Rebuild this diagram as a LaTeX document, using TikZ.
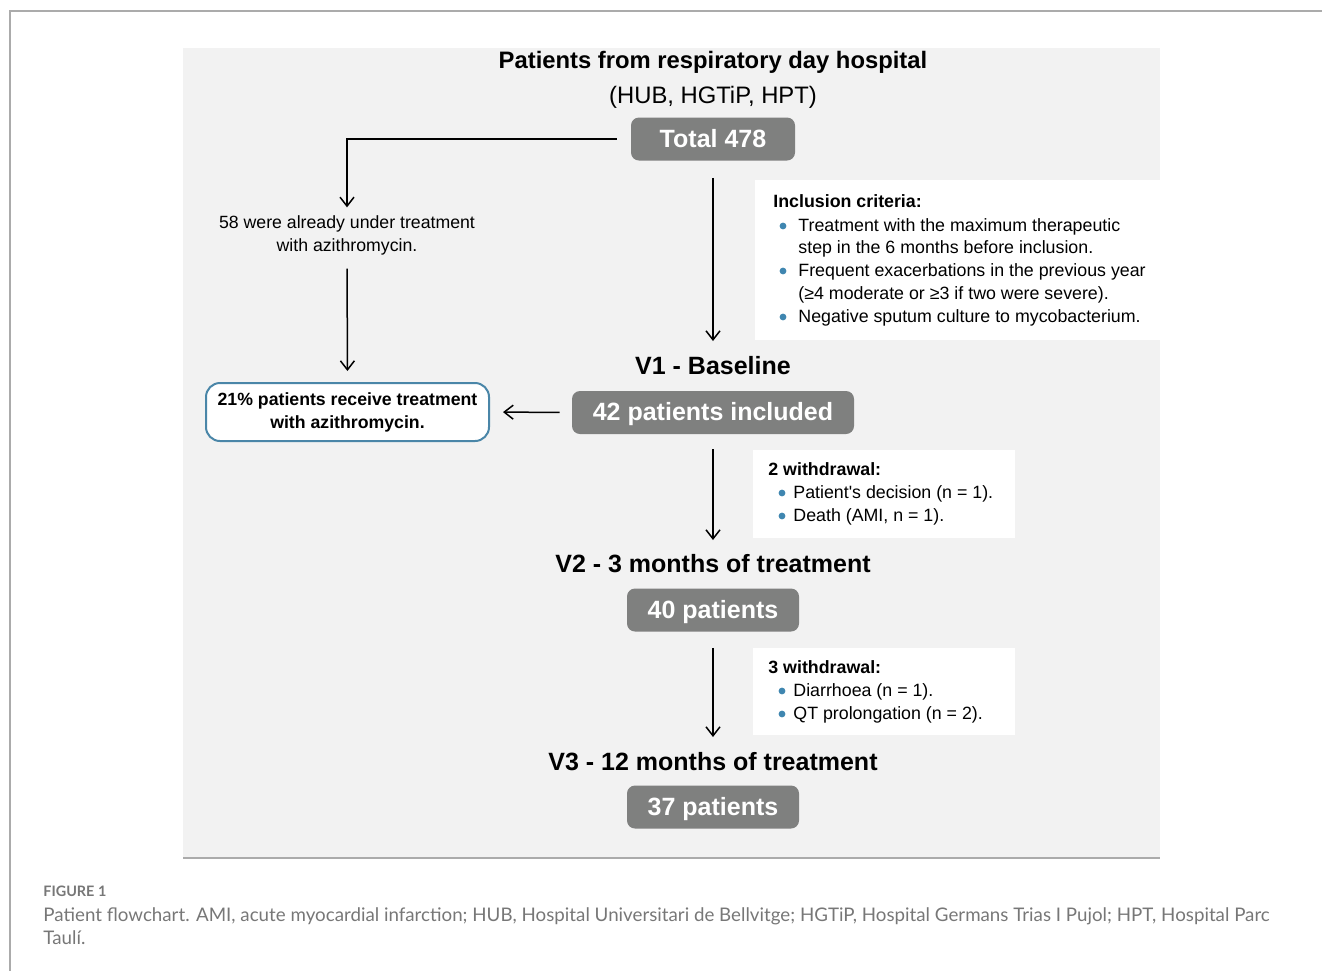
\documentclass[tikz,border=0pt]{standalone}
\usepackage{fontspec}
\setmainfont{Liberation Sans}
\newfontfamily\captionfont{Lato}
\usetikzlibrary{arrows.meta}

\definecolor{panelgray}{HTML}{F2F2F2}
\definecolor{countgray}{HTML}{7F807F}
\definecolor{edgeblue}{HTML}{4A86A8}
\definecolor{dotblue}{HTML}{3F86B0}
\definecolor{framegray}{HTML}{ABABAB}
\definecolor{capgray}{HTML}{777777}

\begin{document}
\begin{tikzpicture}[x=0.5pt, y=-0.5pt, >={Straight Barb[length=4.5pt,width=7pt]},
  countbox/.style={fill=countgray, rounded corners=4pt, text=white, font=\fontsize{12.5}{15}\bfseries,
    text height=0.72em+1pt, text depth=0pt, minimum height=21.5pt, inner sep=0pt},
  stagelabel/.style={font=\fontsize{12.5}{15}\bfseries, anchor=base, inner sep=0pt},
  infobox/.style={fill=white, draw=none, inner sep=0pt},
  infoline/.style={font=\fontsize{8.9}{11}\selectfont, anchor=base west, inner sep=0pt},
  flow/.style={->, line width=0.75pt}]
  \useasboundingbox (0,0) rectangle (1322,971);

  % page frame and panel
  \draw[framegray, line width=0.8pt] (1322,11) -- (10,11) -- (10,971);
  \fill[panelgray] (183,48) rectangle (1160,858);
  \draw[framegray, line width=0.8pt] (183,858) -- (1160,858);

  % heading
  \node[stagelabel, font=\fontsize{11.9}{14}\bfseries] (title) at (713,68.5) {Patients from respiratory day hospital};
  \node[stagelabel, font=\fontsize{11.9}{14}\selectfont] (sites) at (713,103) {(HUB, HGTiP, HPT)};
  \node[countbox, minimum width=82pt] (total) at (713,139) {Total 478};

  % side branch
  \node[font=\fontsize{8.85}{11.5}\selectfont, align=center, inner sep=0pt] (already) at (347,235.5)
    {58 were already under treatment\\with azithromycin.};
  \node[draw=edgeblue, line width=1pt, fill=white, rounded corners=7pt, minimum width=141.5pt, minimum height=29pt,
    align=center, inner sep=0pt, font=\fontsize{8.85}{11.5}\bfseries] (receive) at (347.5,412)
    {21\% patients receive treatment\\with azithromycin.};

  % inclusion criteria
  \node[infobox, minimum width=202.5pt, minimum height=80pt] (incl) at (957.5,260) {};
  \node[infoline, font=\fontsize{8.9}{11}\bfseries] (incl0) at (773,207) {Inclusion criteria:};
  \node[infoline] (incl1) at (798,231) {Treatment with the maximum therapeutic};
  \node[infoline] (incl1b) at (798,253) {step in the 6 months before inclusion.};
  \node[infoline] (incl2) at (798,276) {Frequent exacerbations in the previous year};
  \node[infoline] (incl2b) at (798,299) {(≥4 moderate or ≥3 if two were severe).};
  \node[infoline] (incl3) at (798,322) {Negative sputum culture to mycobacterium.};
  \foreach \y in {226,271,317}
    \fill[dotblue] (783,\y) circle (1.7pt);

  % V1
  \node[stagelabel] (v1) at (713,374) {V1 - Baseline};
  \node[countbox, minimum width=141pt] (included) at (713,412.5) {42 patients included};

  % first withdrawal
  \node[infobox, minimum width=131pt, minimum height=44pt] (wdA) at (884,494) {};
  \node[infoline, font=\fontsize{8.9}{11}\bfseries] (wdA0) at (768,475) {2 withdrawal:};
  \node[infoline] (wdA1) at (793,498) {Patient\textquotesingle s decision (n = 1).};
  \node[infoline] (wdA2) at (793,521) {Death (AMI, n = 1).};
  \foreach \y in {493,516}
    \fill[dotblue] (782,\y) circle (1.7pt);

  % V2
  \node[stagelabel] (v2) at (713,572) {V2 - 3 months of treatment};
  \node[countbox, minimum width=86pt] (forty) at (713,610) {40 patients};

  % second withdrawal
  \node[infobox, minimum width=131pt, minimum height=43.5pt] (wdB) at (884,691.5) {};
  \node[infoline, font=\fontsize{8.9}{11}\bfseries] (wdB0) at (768,673) {3 withdrawal:};
  \node[infoline] (wdB1) at (793,696) {Diarrhoea (n = 1).};
  \node[infoline] (wdB2) at (793,719) {QT prolongation (n = 2).};
  \foreach \y in {691,714}
    \fill[dotblue] (782,\y) circle (1.7pt);

  % V3
  \node[stagelabel] (v3) at (713,770) {V3 - 12 months of treatment};
  \node[countbox, minimum width=86pt] (thirtyseven) at (713,807) {37 patients};

  % connectors
  \draw[flow] ([xshift=-7pt]total.west) -| ([yshift=4pt]already.north);
  \draw[flow, shorten <=6.5pt, shorten >=5.5pt] (already.south) -- (receive.north);
  \draw[flow, shorten <=8.5pt, shorten >=7.5pt] (total.south) -- (v1.north |- 0,356);
  \draw[flow, shorten <=6pt, shorten >=6.5pt] (included.west) -- (receive.east);
  \draw[flow, shorten <=7.5pt] (included.south) -- (713,540);
  \draw[flow, shorten <=8pt] (forty.south) -- (713,737);

  % caption
  \node[anchor=base west, inner sep=0pt, text=capgray, font=\captionfont\fontsize{7.2}{9}\bfseries] (capno) at (43,896) {FIGURE 1};
  \node[anchor=base west, inner sep=0pt, text=capgray, font=\captionfont\fontsize{9.37}{11.5}\selectfont] (captext) at (43,921)
    {Patient flowchart. AMI, acute myocardial infarction; HUB, Hospital Universitari de Bellvitge; HGTiP, Hospital Germans Trias I Pujol; HPT, Hospital Parc};
  \node[anchor=base west, inner sep=0pt, text=capgray, font=\captionfont\fontsize{9.37}{11.5}\selectfont] (captextb) at (43,944) {Taulí.};
\end{tikzpicture}
\end{document}
